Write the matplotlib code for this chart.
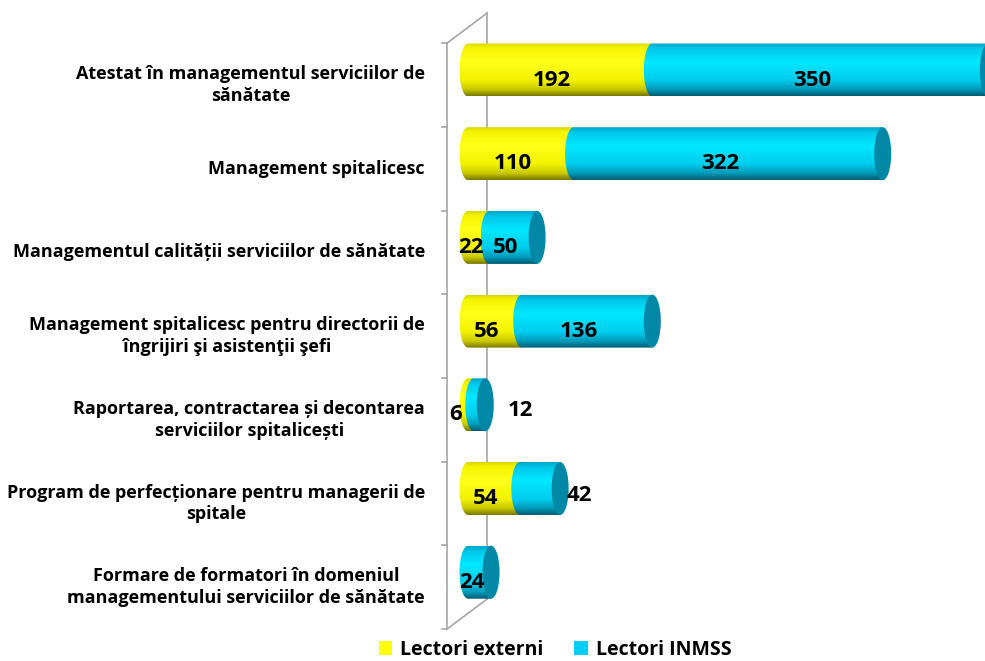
import numpy as np
import matplotlib
matplotlib.use("Agg")
import matplotlib.pyplot as plt
from matplotlib.path import Path
from matplotlib.patches import PathPatch, Ellipse, Patch
from matplotlib.colors import LinearSegmentedColormap

# data
categories = [
    "Atestat în managementul serviciilor de\nsănătate",
    "Management spitalicesc",
    "Managementul calității serviciilor de sănătate",
    "Management spitalicesc pentru directorii de\nîngrijiri şi asistenţii şefi",
    "Raportarea, contractarea și decontarea\nserviciilor spitalicești",
    "Program de perfecționare pentru managerii de\nspitale",
    "Formare de formatori în domeniul\nmanagementului serviciilor de sănătate",
]
externi = [192, 110, 22, 56, 6, 54, 0]
inmss = [350, 322, 50, 136, 12, 42, 24]
series_names = ["Lectori externi", "Lectori INMSS"]

plt.rcParams['font.family'] = ['Open Sans', 'DejaVu Sans']

fig = plt.figure(figsize=(9.85, 6.61), dpi=100)
ax = fig.add_axes([0, 0, 1, 1])

# pixel -> data mapping (0 at x=468px, 0.96 px per unit; bar i centre at 70+83.7*i px)
PX = 0.96
XL, XR = -468 / PX, (985 - 468) / PX
ROW = 83.7
YT, YB = -70 / ROW, (661 - 70) / ROW
half_h = 26.5 / ROW
rx = 8.5 / PX

yellow = LinearSegmentedColormap.from_list("y", [(0, "#d8d800"), (0.08, "#f4f400"), (0.35, "#ffff1a"),
                                                   (0.7, "#f2f200"), (0.88, "#c8c800"), (1, "#7a7a00")])
cyan = LinearSegmentedColormap.from_list("c", [(0, "#00a8c8"), (0.1, "#00c8ec"), (0.35, "#00e8ff"),
                                                 (0.7, "#00cdee"), (0.88, "#0099b8"), (1, "#005e74")])
grad = np.linspace(0, 1, 64).reshape(-1, 1)


def segment(x0, x1, y, cmap):
    t = np.linspace(np.pi / 2, 3 * np.pi / 2, 30)
    left = np.column_stack([x0 + rx * np.cos(t), y - half_h * np.sin(t)])
    verts = np.vstack([left, [[x1, y + half_h], [x1, y - half_h], left[0]]])
    path = Path(verts, closed=True)
    patch = PathPatch(path, facecolor="none", edgecolor="none")
    ax.add_patch(patch)
    im = ax.imshow(grad, cmap=cmap, extent=(x0 - rx, x1, y + half_h, y - half_h),
                   aspect="auto", interpolation="bilinear", zorder=2)
    im.set_clip_path(patch)


# 3d wall lines
grey = "#a6a6a6"
fx, bx = (447 - 468) / PX, (487 - 468) / PX
dy = -30 / ROW
ytop = -0.5 + 15 / ROW
ybot = ytop + len(categories)
ax.plot([fx, fx], [ytop, ybot], color=grey, lw=1.2, zorder=1)
ax.plot([bx, bx], [ytop + dy, ybot + dy], color=grey, lw=1.2, zorder=1)
ax.plot([fx, bx], [ytop, ytop + dy], color=grey, lw=1.2, zorder=1)
ax.plot([fx, bx], [ybot, ybot + dy], color=grey, lw=1.2, zorder=1)
for k in range(len(categories) + 1):
    ax.plot([fx - 5 / PX, fx], [ytop + k, ytop + k], color=grey, lw=1.2, zorder=1)

lab_font = dict(fontsize=16, fontweight="bold", color="black", zorder=5)
for i, (a, b) in enumerate(zip(externi, inmss)):
    if a > 0:
        segment(0, a, i, yellow)
    segment(a, a + b, i, cyan)
    cap = Ellipse((a + b, i), 2 * rx, 2 * half_h, facecolor="#0088a6", edgecolor="none", zorder=3)
    ax.add_patch(cap)

    # value labels
    if a > 0:
        if a < 15:
            ax.annotate(str(a), (0, i), xytext=(-6, -10), textcoords="offset pixels",
                        ha="right", va="center", **lab_font)
        else:
            ax.annotate(str(a), (a / 2, i), xytext=(-8, -10), textcoords="offset pixels",
                        ha="center", va="center", **lab_font)
    if b < 15:
        ax.annotate(str(b), (a + b, i), xytext=(22, -6), textcoords="offset pixels",
                    ha="left", va="center", **lab_font)
    elif b < 45 and a > 0:
        ax.annotate(str(b), (a + b, i), xytext=(6, -7), textcoords="offset pixels",
                    ha="left", va="center", **lab_font)
    else:
        ax.annotate(str(b), (a + b / 2, i), xytext=(-8, -10), textcoords="offset pixels",
                    ha="center", va="center", **lab_font)

# category labels
for i, c in enumerate(categories):
    ax.text((425 - 468) / PX, i + 15 / ROW, c, ha="right", va="center", multialignment="center",
            fontsize=13, fontweight="bold", linespacing=1.25)

ax.set_xlim(XL, XR)
ax.set_ylim(YB, YT)
ax.axis("off")

handles = [Patch(facecolor="#ffff00", label=series_names[0]),
           Patch(facecolor="#00ccff", label=series_names[1])]
fig.legend(handles=handles, loc="center", bbox_to_anchor=(555 / 985, 1 - 650 / 661), ncol=2,
           frameon=False, prop=dict(size=14, weight="bold"), handlelength=0.7, handleheight=0.7,
           handletextpad=0.4, columnspacing=1.6)

fig.savefig("out.png", dpi=100)
